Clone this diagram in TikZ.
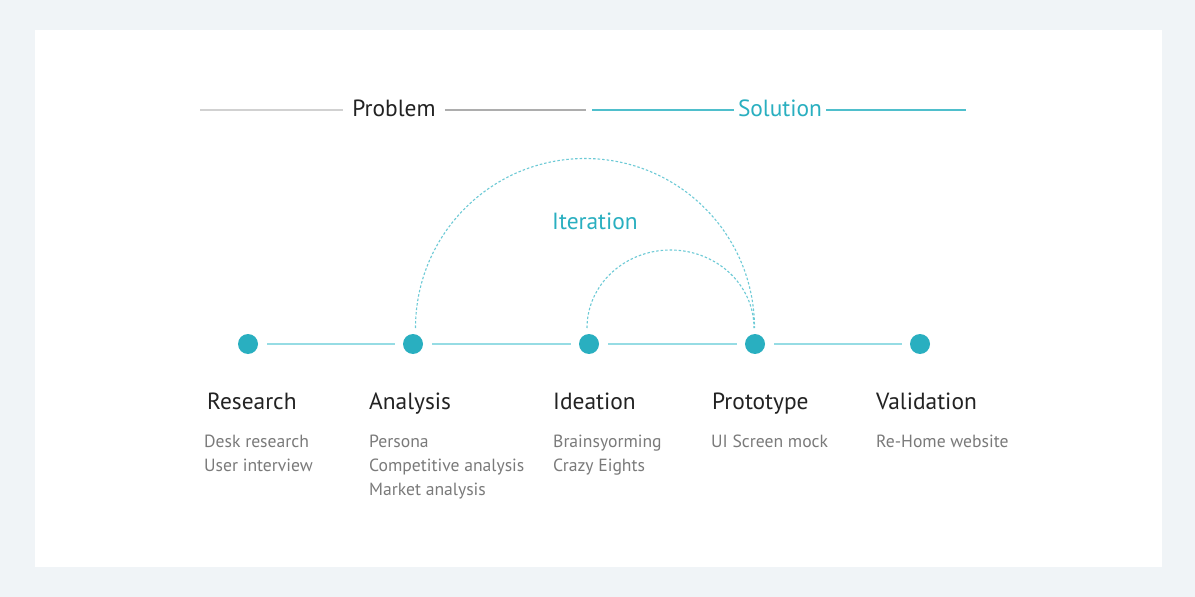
\documentclass[tikz,border=0pt]{standalone}
\usepackage{fontspec}
\setmainfont{PT Sans}
\definecolor{bgout}{HTML}{F0F4F7}
\definecolor{teal}{HTML}{29AFC0}
\definecolor{teallight}{HTML}{96DCE4}
\definecolor{tealdash}{HTML}{6CCAD6}
\definecolor{tealtop}{HTML}{4FBFCC}
\definecolor{headc}{HTML}{222222}
\definecolor{bodyc}{HTML}{7A7A7A}
\begin{document}
\begin{tikzpicture}[x=1bp,y=-1bp,
  dot/.style={circle,fill=teal,minimum size=20bp,inner sep=0pt},
  link/.style={draw=teallight,line width=1.5bp,shorten <=9bp,shorten >=8bp},
  arcline/.style={draw=tealdash,line width=1.1bp,dash pattern=on 2.5bp off 2bp},
  head/.style={anchor=base west,inner sep=0pt,text=headc,font=\fontsize{23.5}{28}\selectfont},
  body/.style={anchor=base west,inner sep=0pt,text=bodyc,font=\fontsize{17.7}{21}\selectfont},
  grayline/.style={draw=#1,line width=1.1bp},
  title/.style={anchor=base,inner sep=0pt,font=\fontsize{23.5}{28}\selectfont}]
\useasboundingbox (0,0) rectangle (1195,597);
\fill[bgout] (0,0) rectangle (1195,597);
\fill[white] (35,30) rectangle (1162,567);

% top labels
\node[title,text=headc] (problem) at (394,116.5) {Problem};
\node[title,text=teal] (solution) at (780,116.5) {Solution};
\coordinate (pl) at (200,110);
\coordinate (pr) at (586,110);
\coordinate (sl) at (592,110);
\coordinate (sr) at (966,110);
\draw[grayline={black!18}] (pl) -- ([xshift=-9bp]pl -| problem.west);
\draw[grayline={black!32}] ([xshift=9bp]pr -| problem.east) -- (pr);
\draw[grayline={tealtop}] (sl) -- ([xshift=-4bp]sl -| solution.west);
\draw[grayline={tealtop}] ([xshift=4bp]sr -| solution.east) -- (sr);

% dots
\node[dot] (d1) at (248,344) {};
\node[dot] (d2) at (413,344) {};
\node[dot] (d3) at (589,344) {};
\node[dot] (d4) at (755,344) {};
\node[dot] (d5) at (920,344) {};
\draw[link] (d1) -- (d2);
\draw[link] (d2) -- (d3);
\draw[link] (d3) -- (d4);
\draw[link] (d4) -- (d5);

% arcs
\coordinate (a1) at (415.5,328);
\coordinate (a2) at (587,328);
\draw[arcline] (a1) arc[start angle=180,end angle=360,radius=169.5];
\draw[arcline] (a2) arc[start angle=180,end angle=360,x radius=83.5,y radius=78];
\node[title,text=teal] (iter) at (595,229.5) {Iteration};

% headings
\node[head] (h1) at (207,409) {Research};
\node[head] (h2) at (369,409) {Analysis};
\node[head] (h3) at (553,409) {Ideation};
\node[head] (h4) at (712,409) {Prototype};
\node[head] (h5) at (876,409) {Validation};

% body
\node[body] (b11) at (204,447) {Desk research};
\node[body] (b12) at (204,471) {User interview};
\node[body] (b21) at (369,447) {Persona};
\node[body] (b22) at (369,471) {Competitive analysis};
\node[body] (b23) at (369,495) {Market analysis};
\node[body] (b31) at (553,447) {Brainsyorming};
\node[body] (b32) at (553,471) {Crazy Eights};
\node[body] (b41) at (711,447) {UI Screen mock};
\node[body] (b51) at (876,447) {Re-Home website};
\end{tikzpicture}
\end{document}
